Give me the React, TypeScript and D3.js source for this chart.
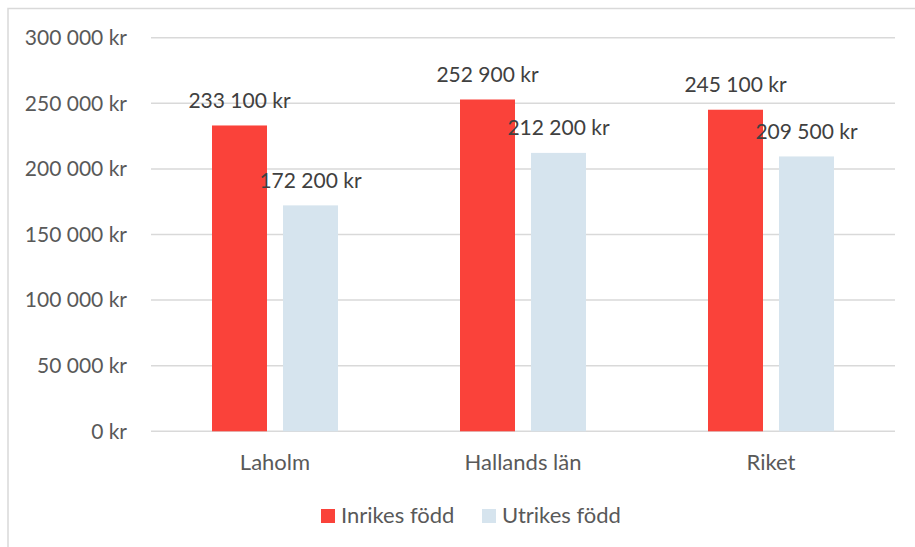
import React from "react";
import * as d3 from "d3";

const categories = ["Laholm", "Hallands län", "Riket"];
const seriesNames = ["Inrikes född", "Utrikes född"];
const inrikes = [233100, 252900, 245100];
const utrikes = [172200, 212200, 209500];
const yTicks = [0, 50000, 100000, 150000, 200000, 250000, 300000];
const colors = ["#fa423a", "#d6e4ee"];

const W = 915;
const H = 547;
const plot = { left: 151, right: 895, top: 37.7, bottom: 431.3 };
const FONT = "Lato, 'Open Sans', sans-serif";
const TEXT = "#595959";

const fmt = (v: number) => {
  const s = d3.format(",")(v).replace(/,/g, " ");
  return `${s} kr`;
};

export default function App() {
  const x = d3.scaleBand<string>().domain(categories).range([plot.left, plot.right]).paddingInner(0).paddingOuter(0);
  const y = d3.scaleLinear().domain([0, 300000]).range([plot.bottom, plot.top]);
  const barW = 55;
  const gap = 16;
  const series = [inrikes, utrikes];

  return (
    <svg width={W} height={H} style={{ position: "absolute", left: 0, top: 0, background: "#fff" }}>
      <rect x={8} y={8.5} width={1000} height={1000} fill="#fff" stroke="#d9d9d9" strokeWidth={1.5} />
      {yTicks.map((t) => (
        <g key={t}>
          <line x1={plot.left} x2={plot.right} y1={y(t)} y2={y(t)} stroke="#d9d9d9" strokeWidth={1.5} />
          <text x={127} y={y(t)} dy="0.35em" textAnchor="end" fontFamily={FONT} fontSize={21} fill={TEXT}>
            {fmt(t)}
          </text>
        </g>
      ))}
      {categories.map((c, i) => {
        const cx = (x(c) as number) + x.bandwidth() / 2;
        return (
          <g key={c}>
            {series.map((s, j) => {
              const bx = cx - gap / 2 - barW + j * (barW + gap);
              return (
                <rect key={j} x={bx} y={y(s[i])} width={barW} height={y(0) - y(s[i])} fill={colors[j]} />
              );
            })}
            {series.map((s, j) => {
              const bx = cx - gap / 2 - barW + j * (barW + gap);
              return (
                <text key={"l" + j} x={bx + barW / 2} y={y(s[i]) - 17.5} textAnchor="middle" fontFamily={FONT} fontSize={21} fill="#404040">
                  {fmt(s[i])}
                </text>
              );
            })}
            <text x={cx} y={470} textAnchor="middle" fontFamily={FONT} fontSize={22} fill={TEXT}>
              {c}
            </text>
          </g>
        );
      })}
      {seriesNames.map((n, j) => {
        const lx = [321, 482][j];
        return (
          <g key={n}>
            <rect x={lx} y={509} width={14} height={14} fill={colors[j]} />
            <text x={lx + 20} y={523} fontFamily={FONT} fontSize={22} fill={TEXT}>
              {n}
            </text>
          </g>
        );
      })}
    </svg>
  );
}
